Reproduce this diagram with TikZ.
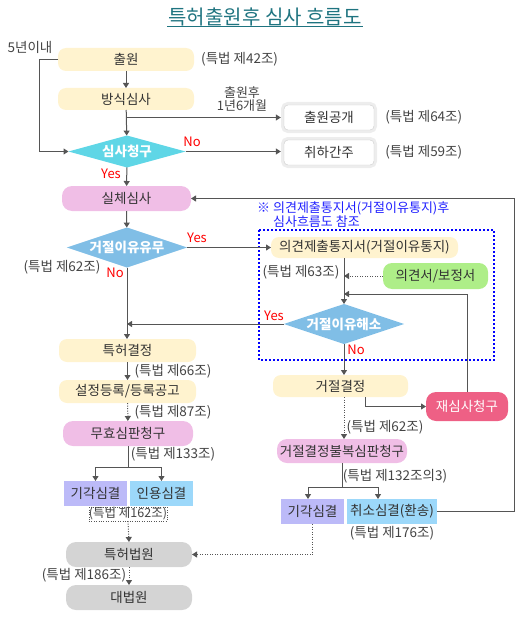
\documentclass[tikz,border=0pt]{standalone}
\usepackage{fontspec}
\setmainfont{Noto Sans CJK KR}
\usetikzlibrary{positioning,shapes.geometric,arrows.meta}

\definecolor{cream}{RGB}{255,243,207}
\definecolor{pinkq}{RGB}{240,190,230}
\definecolor{cyanq}{RGB}{95,214,230}
\definecolor{blueq}{RGB}{128,190,230}
\definecolor{greenq}{RGB}{174,238,136}
\definecolor{redq}{RGB}{238,96,133}
\definecolor{lavq}{RGB}{188,186,248}
\definecolor{skyq}{RGB}{156,216,250}
\definecolor{grayq}{RGB}{212,212,212}
\definecolor{linegray}{RGB}{85,85,85}
\definecolor{textgray}{RGB}{51,51,51}
\definecolor{notegray}{RGB}{68,68,68}
\definecolor{notecol}{RGB}{32,32,255}
\definecolor{titlecol}{RGB}{31,116,128}

\begin{document}
\begin{tikzpicture}[
    x=1pt, y=-1pt,
    font=\fontsize{13.5}{15}\selectfont,
   mybox/.style = {
        rectangle, rounded corners=8pt, align=center,
        inner sep=0pt, outer sep=0pt, text=textgray},
 flatbox/.style = {
        rectangle, align=center, inner sep=0pt, outer sep=0pt,
        text=textgray},
shadebox/.style = {
        rectangle, rounded corners=4pt, draw=black!20, fill=white,
        minimum width=90pt, minimum height=25pt, text=textgray,
        preaction={draw=black!7, line width=6pt}},
mydiamond/.style = {
        diamond, aspect=3.6, inner sep=0pt, outer sep=0pt,
        text=white, font=\fontsize{13.5}{15}\selectfont\bfseries},
  mynote/.style = {
        inner sep=1pt, text=notegray, align=center},
   yesno/.style = {
        inner sep=0pt, text=red, font=\fontsize{13}{15}\selectfont},
    line/.style = {draw=linegray, line width=1pt},
   arrow/.style = {line, -{Triangle[length=5pt,width=6pt]}},
dotarrow/.style = {arrow, dash pattern=on 1pt off 1.5pt},
 bluebox/.style = {draw=blue, line width=2pt, dash pattern=on 2pt off 2pt}
                    ]
\useasboundingbox (0,0) rectangle (528,623);
% the title
\node (title) [font=\fontsize{20}{22}\selectfont, text=titlecol, inner sep=1pt]
        at (265,16.5) {특허출원후 심사 흐름도};
\draw[titlecol, line width=1pt] (title.south west) -- (title.south east);
% the area of the later examination
\draw[bluebox] (259,230) rectangle (494,360);
\node (tnote) [anchor=north west, inner sep=0pt, text=notecol, align=left,
        font=\fontsize{13}{14}\selectfont] at (257,201)
        {※ 의견제출통지서(거절이유통지)후\\\hphantom{※ }심사흐름도 참조};
% the chain on the left
\node (n1)  [mybox, fill=cream, minimum width=136pt, minimum height=23pt]
        at (126,59.5)   {출원};
\node (n2)  [mybox, fill=cream, minimum width=136pt, minimum height=22pt]
        at (126,99)     {방식심사};
\node (d1)  [mydiamond, fill=cyanq, minimum width=117pt, minimum height=32pt]
        at (127,151.5)  {심사청구};
\node (n3)  [mybox, fill=pinkq, rounded corners=10pt,
        minimum width=129pt, minimum height=25pt]
        at (126.5,198.5) {실체심사};
\node (d2)  [mydiamond, fill=blueq, minimum width=115pt, minimum height=40pt]
        at (127,247.5)  {거절이유유무};
\node (n4)  [mybox, fill=cream, minimum width=137pt, minimum height=23pt]
        at (127.5,350.5) {특허결정};
\node (n5)  [mybox, fill=cream, minimum width=137pt, minimum height=23pt]
        at (127.5,391.5) {설정등록/등록공고};
\node (n6)  [mybox, fill=pinkq, rounded corners=10pt,
        minimum width=130pt, minimum height=25pt]
        at (128,433.5)  {무효심판청구};
\node (n7)  [flatbox, fill=lavq, minimum width=63pt, minimum height=25pt]
        at (95.5,493.5) {기각심결};
\node (n8)  [flatbox, fill=skyq, minimum width=63pt, minimum height=25pt]
        at (161.5,493.5) {인용심결};
\node (n9)  [mybox, fill=grayq, rounded corners=10pt,
        minimum width=126pt, minimum height=25pt]
        at (129,554.5)  {특허법원};
\node (n10) [mybox, fill=grayq, rounded corners=10pt,
        minimum width=126pt, minimum height=25pt]
        at (129,597.5)  {대법원};
% the branches to the right
\node (p1)  [shadebox] at (329,117.5) {출원공개};
\node (p2)  [shadebox] at (329,152.5) {취하간주};
\node (r1)  [mybox, fill=cream, minimum width=187pt, minimum height=21pt]
        at (364.5,247.5) {의견제출통지서(거절이유통지)};
\node (r2)  [mybox, fill=greenq, rounded corners=9pt,
        minimum width=105pt, minimum height=26pt]
        at (435.5,276)  {의견서/보정서};
\node (d3)  [mydiamond, fill=blueq, minimum width=116pt, minimum height=40pt]
        at (344,324)    {거절이유해소};
\node (r3)  [mybox, fill=cream, minimum width=135pt, minimum height=22pt]
        at (340.5,386)  {거절결정};
\node (r4)  [mybox, fill=redq, text=white, rounded corners=10pt,
        minimum width=82pt, minimum height=29pt]
        at (467,406.5)  {재심사청구};
\node (r5)  [mybox, fill=pinkq, rounded corners=10pt,
        minimum width=130pt, minimum height=24pt]
        at (342,451)    {거절결정불복심판청구};
\node (r6)  [flatbox, fill=lavq, minimum width=63pt, minimum height=25pt]
        at (312.5,511.5) {기각심결};
\node (r7)  [flatbox, fill=skyq, minimum width=90pt, minimum height=25pt]
        at (392,511.5)  {취소심결(환송)};
% the notes
\node (t42)  [mynote, right=6pt of n1]  {(특법 제42조)};
\node (t64)  [mynote, right=10pt of p1] {(특법 제64조)};
\node (t59)  [mynote, right=10pt of p2] {(특법 제59조)};
\node (tpub) [mynote, font=\fontsize{13}{12.5}\selectfont] at (242,99)
        {출원후\\1년6개월};
\node (t5y)  [mynote] at (30,47)    {5년이내};
\node (t62a) [mynote] at (62,267)   {(특법 제62조)};
\node (t63)  [mynote] at (301,272)  {(특법 제63조)};
\node (t66)  [mynote] at (173,371)  {(특법 제66조)};
\node (t87)  [mynote] at (173,412)  {(특법 제87조)};
\node (t133) [mynote] at (173,454)  {(특법 제133조)};
\node (t162) [mynote, draw=linegray, dotted, inner sep=0pt,
        font=\fontsize{12.5}{14}\selectfont,
        minimum width=70pt, minimum height=14pt]
        at (128,514)  {(특법 제162조)};
\node (t186) [mynote] at (84,575)   {(특법 제186조)};
\node (t62b) [mynote] at (385,427)  {(특법 제62조)};
\node (t1323)[mynote] at (395,476)  {(특법 제132조의3)};
\node (t176) [mynote] at (392,533)  {(특법 제176조)};
% yes and no
\node (y1)  [yesno] at (111,174) {Yes};
\node (no1) [yesno] at (192,142) {No};
\node (y2)  [yesno] at (197,238) {Yes};
\node (no2) [yesno] at (115,273) {No};
\node (y3)  [yesno] at (274,316) {Yes};
\node (no3) [yesno] at (356,350) {No};
% the connectors
\coordinate (j1) at (344,294);
\coordinate (f1) at (128,467);
\coordinate (f2) at (342,487);
\draw[arrow] (n1) -- (n2);
\draw[arrow] (n2) -- (d1);
\draw[arrow, shorten >=3pt] (n2.south |- p1) -- (p1.west);
\draw[arrow, shorten >=3pt] (d1.east) -- (d1.east -| p2.west);
\draw[arrow] (n1.west) -- ++(-19,0) |- (d1.west);
\draw[arrow] (d1) -- (n3);
\draw[arrow] (n3) -- (d2);
\draw[arrow] (d2.east) -- (r1.west);
\draw[arrow] (d2) -- (d2.south |- n4.north);
\draw[arrow] (d3.west) -- (d3.west -| d2.south);
\draw[arrow] (d3.north |- r1.south) -- (d3.north);
\draw[dotarrow] (r2.west) -- (r2.west -| d3.north);
\draw[arrow] (r4.north) |- (j1);
\draw[arrow] (d3.south) -- (d3.south |- r3.north);
\draw[arrow] ([xshift=24.5pt]r3.south) |- (r4.west);
\draw[dotarrow] (d3.south |- r3.south) -- (d3.south |- r5.north);
\draw[line] (r5.south) -- (f2);
\draw[arrow] (f2) -| ([xshift=-4.5pt]r6.north);
\draw[arrow] (f2) -| ([xshift=-14pt]r7.north);
\draw[arrow] (r7.east) -- ++(77,0) |- (n3.east);
\draw[dotarrow] (r6.south) |- (n9.east);
\draw[arrow] (n4) -- (n5);
\draw[dotarrow] (n5) -- (n6);
\draw[line] (n6.south) -- (f1);
\draw[arrow] (f1) -| (n7.north);
\draw[arrow] (f1) -| (n8.north);
\draw[dotarrow] (t162.south) -- (n9.north);
\draw[dotarrow] (n9) -- (n10);
\end{tikzpicture}
\end{document}
